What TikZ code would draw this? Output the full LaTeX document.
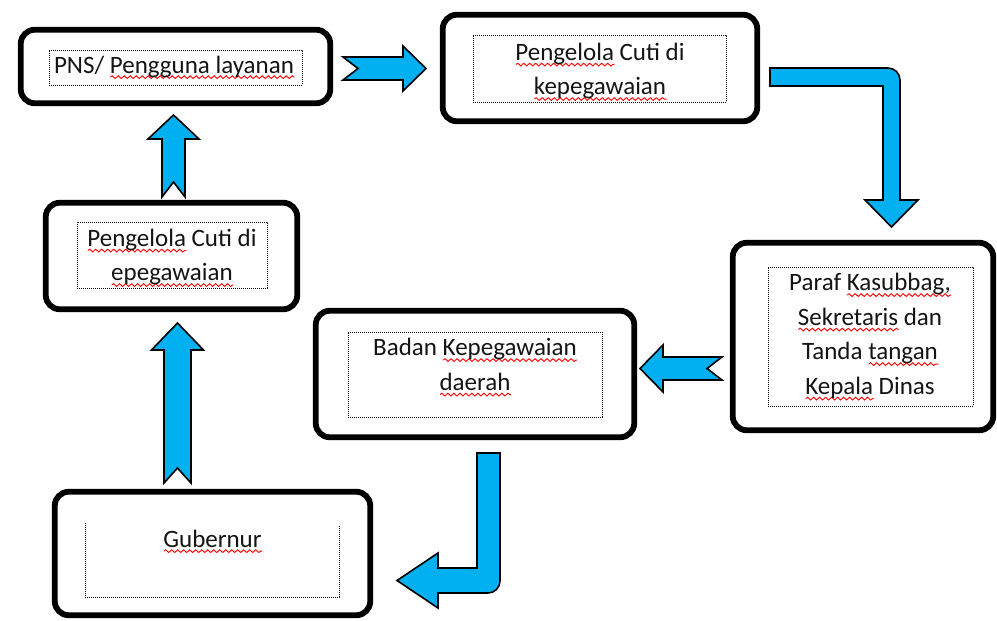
\documentclass[tikz,border=0pt]{standalone}
\usepackage{fontspec}
\setmainfont{Carlito}
\usepackage{tikz}
\usetikzlibrary{calc, decorations.pathmorphing}
\definecolor{ArrBlue} {HTML}{00B0F0}
\definecolor{InkBlk}  {HTML}{141414}
\definecolor{SpellRed}{HTML}{FF0000}

% red wavy spell-check underline
\newlength{\typolen}
\newcommand{\typo}[1]{\settowidth{\typolen}{#1}%
  \rlap{\raisebox{-6pt}{\tikz\draw[SpellRed, line width=0.9pt, decorate,
    decoration={snake, amplitude=1.4pt, segment length=6pt}] (0pt,0pt) -- (\typolen,0pt);}}#1}

% notched block arrow: tail, angle, length, shaft half, head half, head length
\newcommand{\blockarr}[6]{%
  \draw[blockarrow, shift={(#1)}, rotate=#2]
    (0,-#4) -- (#3-#6,-#4) -- (#3-#6,-#5) -- (#3,0) -- (#3-#6,#5)
    -- (#3-#6,#4) -- (0,#4) -- (15,0) -- cycle;}

\tikzset{
  stepbox/.style={draw=black, line width=5.8pt, rounded corners=14pt, inner sep=0pt},
  dotbox/.style={draw=black, line width=0.8pt, dash pattern=on 0.8pt off 1.2pt, inner sep=0pt},
  txt/.style={font=\fontsize{25}{34.5}\selectfont, text=InkBlk, align=center, inner sep=0pt},
  blockarrow/.style={fill=ArrBlue, draw=black, line width=1.6pt, line join=miter},
}

\begin{document}
\begin{tikzpicture}[x=1pt, y=1pt]
  \useasboundingbox (0,0) rectangle (997,-621);

  % ── outer rounded boxes ──────────────────────────────────────────────────
  \node[stepbox, minimum width=309.5, minimum height=73.5]  (pns)   at (175.5,-66.5) {};
  \node[stepbox, minimum width=314.5, minimum height=106.5] (cutiA) at (600,-68)     {};
  \node[stepbox, minimum width=251.5, minimum height=106.5] (cutiB) at (171.5,-256)  {};
  \node[stepbox, minimum width=260.5, minimum height=187.5] (paraf) at (863,-336.5)  {};
  \node[stepbox, minimum width=318.5, minimum height=126.5] (badan) at (475,-374)    {};
  \node[stepbox, minimum width=315.5, minimum height=123.5] (gub)   at (212.5,-553.5){};

  % ── dotted text frames ───────────────────────────────────────────────────
  \node[dotbox, minimum width=253, minimum height=35]  (pnsD)   at (175.5,-67.5) {};
  \node[dotbox, minimum width=253, minimum height=67]  (cutiAD) at (599.5,-68.5) {};
  \node[dotbox, minimum width=190, minimum height=66]  (cutiBD) at (172,-255)    {};
  \node[dotbox, minimum width=205, minimum height=139] (parafD) at (870.5,-336.5){};
  \node[dotbox, minimum width=254, minimum height=85]  (badanD) at (475,-374.5)  {};
  \draw[dotbox] (85,-523) -- (85,-597) -- (339,-597) -- (339,-525);

  % ── labels ───────────────────────────────────────────────────────────────
  \node[txt, anchor=base] (pnsL) at (174,-73) {PNS/ \typo{Pengguna layanan}};
  \node[txt] (cutiAL) at (600,-72) {\typo{Pengelola} Cuti di\\ \typo{kepegawaian}};
  \node[txt] (cutiBL) at (172,-258) {\typo{Pengelola} Cuti di\\ \typo{epegawaian}};
  \node[txt] (parafL) at (870,-337)
    {Paraf \typo{Kasubbag,}\\ \typo{Sekretaris} dan\\ Tanda \typo{tangan}\\ \typo{Kepala} Dinas};
  \node[txt] (badanL) at (475,-367.5) {Badan \typo{Kepegawaian}\\ \typo{daerah}};
  \node[txt, anchor=base] (gubL) at (212.5,-547) {\typo{Gubernur}};

  % ── straight notched arrows ──────────────────────────────────────────────
  \coordinate (pnsOut)   at (343,-68.5);
  \coordinate (cutiBOut) at (173.5,-197);
  \coordinate (gubOut)   at (177.5,-483);
  \coordinate (parafOut) at (722,-368.5);
  \blockarr{pnsOut}{0}{83}{11.5}{22.5}{23}
  \blockarr{cutiBOut}{90}{82}{11.5}{25.5}{24}
  \blockarr{gubOut}{90}{160}{13.5}{26}{27}
  \blockarr{parafOut}{180}{82}{11.5}{23.5}{23}

  % ── bent arrows ──────────────────────────────────────────────────────────
  \draw[blockarrow] (770,-68) -- (888,-68) arc[start angle=90, end angle=0, radius=12]
    -- (900,-200) -- (918,-200) -- (891.5,-227) -- (865,-200) -- (883,-200)
    -- (883,-86) -- (770,-86) -- cycle;
  \draw[blockarrow] (477,-453) -- (500,-453) -- (500,-581) arc[start angle=0, end angle=-90, radius=12]
    -- (438,-593) -- (438,-608) -- (397,-580.5) -- (438,-553) -- (438,-568)
    -- (477,-568) -- cycle;
\end{tikzpicture}
\end{document}
